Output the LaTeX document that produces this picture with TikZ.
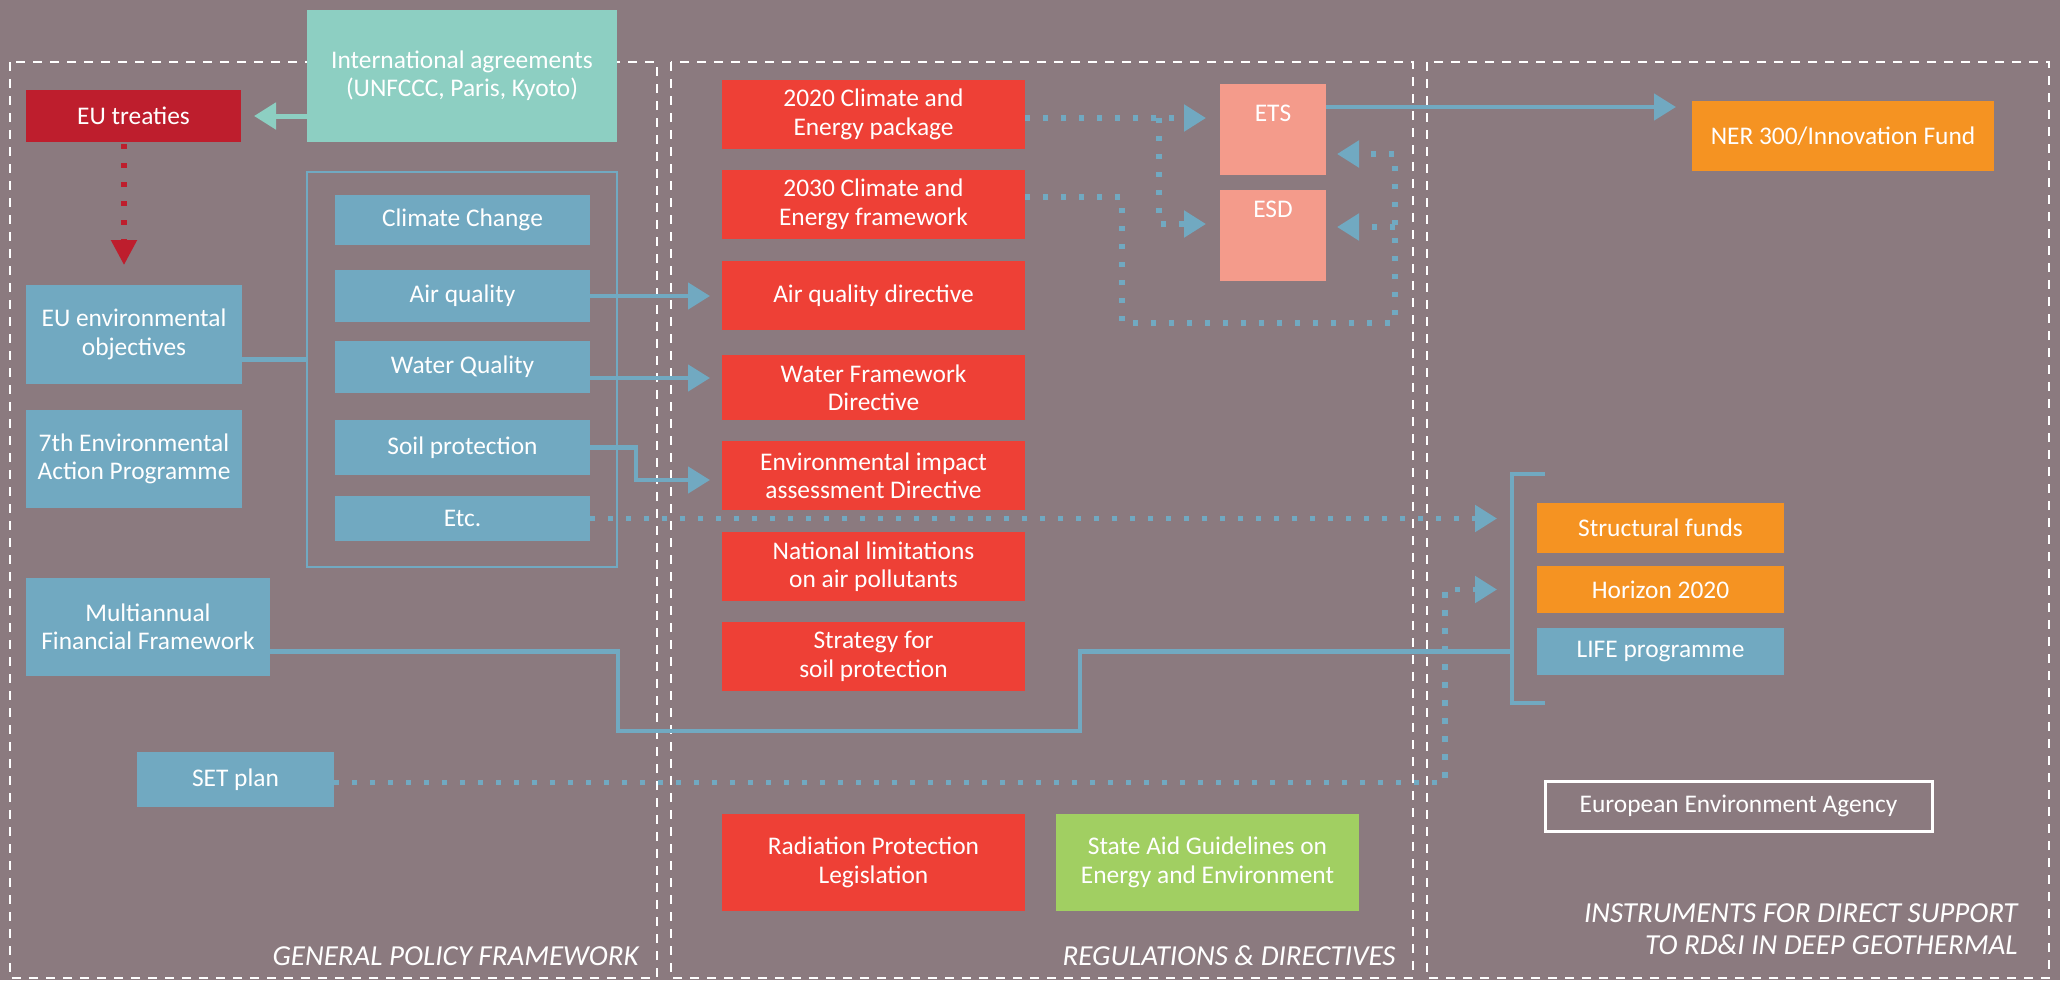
\documentclass[tikz,border=0pt]{standalone}
\usepackage{fontspec}
\setmainfont{Carlito}
\usetikzlibrary{arrows.meta,calc}
\definecolor{bg}{HTML}{8B7A7F}
\definecolor{tealbox}{HTML}{8DCFC2}
\definecolor{crimson}{HTML}{BE1E2D}
\definecolor{bluebox}{HTML}{71A9C1}
\definecolor{redbox}{HTML}{EE4036}
\definecolor{salmon}{HTML}{F49B8B}
\definecolor{orangebox}{HTML}{F59322}
\definecolor{greenbox}{HTML}{A1CF62}
\newcommand\mybox[7]{\node[#2, minimum width={(#5-#3)*0.5pt}, minimum height={(#6-#4)*0.5pt}] (#1) at ({(#3+#5)/2},{(#4+#6)/2}) {#7};}
\begin{document}
\begin{tikzpicture}[x=0.5pt,y=-0.5pt,
  box/.style={inner sep=0pt, outer sep=0pt, text=white, align=center, font=\fontsize{12.7}{14.2}\selectfont},
  lbl/.style={inner sep=0pt, text=white, font=\fontsize{12.7}{14.2}\selectfont},
  section/.style={inner sep=0pt, text=white, align=right, anchor=east, font=\fontsize{14.5}{16}\selectfont\itshape},
  frame/.style={draw=white, line width=1.2pt, dash pattern=on 4.5pt off 4pt},
  solidline/.style={draw=bluebox, line width=2.3pt},
  solidarr/.style={solidline, -{Triangle[length=11pt,width=13pt]}, shorten >=6pt},
  dotline/.style={draw=bluebox, line width=2.6pt, dash pattern=on 2.6pt off 6.4pt},
  dotarr/.style={dotline, -{Triangle[length=11pt,width=13pt]}},
  tealarr/.style={draw=tealbox, line width=2.5pt, -{Triangle[length=11pt,width=13pt]}, shorten >=6.5pt},
  reddot/.style={draw=crimson, line width=2.6pt, dash pattern=on 2.5pt off 7pt, -{Triangle[length=12.5pt,width=12.5pt]}, shorten >=10pt},
  bracketline/.style={draw=bluebox, line width=2.2pt},
]
\useasboundingbox (0,0) rectangle (2060,980);
\fill[bg] (0,0) rectangle (2060,980);

% section frames
\draw[frame] (10,62) rectangle (657,978);
\draw[frame] (671,62) rectangle (1413,978);
\draw[frame] (1427,62) rectangle (2049,978);

% general policy framework
\mybox{intl}{box,fill=tealbox}{307}{10}{617}{142}{International agreements\\(UNFCCC, Paris, Kyoto)}
\mybox{eut}{box,fill=crimson}{26}{90}{241}{142}{EU treaties}
\mybox{euenv}{box,fill=bluebox}{26}{285}{242}{384}{EU environmental\\objectives}
\mybox{seventh}{box,fill=bluebox}{26}{410}{242}{508}{7th Environmental\\Action Programme}
\mybox{mff}{box,fill=bluebox}{26}{578}{270}{676}{Multiannual\\Financial Framework}
\mybox{set}{box,fill=bluebox}{137}{752}{334}{807}{SET plan}
\mybox{grp}{draw=bluebox, line width=1.3pt, inner sep=0pt, outer sep=0pt}{307}{172}{617}{567}{}
\mybox{cc}{box,fill=bluebox}{335}{195}{590}{245}{Climate Change}
\mybox{aq}{box,fill=bluebox}{335}{270}{590}{322}{Air quality}
\mybox{wq}{box,fill=bluebox}{335}{341}{590}{393}{Water Quality}
\mybox{soil}{box,fill=bluebox}{335}{420}{590}{475}{Soil protection}
\mybox{etc}{box,fill=bluebox}{335}{496}{590}{541}{Etc.}

% regulations & directives
\mybox{p2020}{box,fill=redbox}{722}{80}{1025}{149}{2020 Climate and\\Energy package}
\mybox{p2030}{box,fill=redbox}{722}{170}{1025}{239}{2030 Climate and\\Energy framework}
\mybox{aqd}{box,fill=redbox}{722}{261}{1025}{330}{Air quality directive}
\mybox{wfd}{box,fill=redbox}{722}{355}{1025}{420}{Water Framework\\Directive}
\mybox{eia}{box,fill=redbox}{722}{441}{1025}{510}{Environmental impact\\assessment Directive}
\mybox{nat}{box,fill=redbox}{722}{532}{1025}{601}{National limitations\\on air pollutants}
\mybox{strat}{box,fill=redbox}{722}{622}{1025}{691}{Strategy for\\soil protection}
\mybox{rad}{box,fill=redbox}{722}{814}{1025}{911}{Radiation Protection\\Legislation}
\mybox{state}{box,fill=greenbox}{1056}{814}{1359}{911}{State Aid Guidelines on\\Energy and Environment}
\mybox{ets}{box,fill=salmon}{1220}{84}{1326}{175}{}
\mybox{esd}{box,fill=salmon}{1220}{190}{1326}{281}{}
\node[lbl] (etst) at ($(ets.north)+(0,29)$) {ETS};
\node[lbl] (esdt) at ($(esd.north)+(0,19)$) {ESD};

% instruments
\mybox{ner}{box,fill=orangebox}{1692}{101}{1994}{171}{NER 300/Innovation Fund}
\mybox{sf}{box,fill=orangebox}{1537}{503}{1784}{553}{Structural funds}
\mybox{h2020}{box,fill=orangebox}{1537}{566}{1784}{613}{Horizon 2020}
\mybox{life}{box,fill=bluebox}{1537}{628}{1784}{675}{LIFE programme}
\mybox{eea}{box,draw=white,line width=1.5pt}{1545}{781}{1932}{831}{European Environment Agency}

% section labels
\node[section] (lab1) at (639,956) {GENERAL POLICY FRAMEWORK};
\node[section] (lab2) at (1396,956) {REGULATIONS \& DIRECTIVES};
\node[section] (lab3) at (2018,929) {INSTRUMENTS FOR DIRECT SUPPORT\\TO RD\&I IN DEEP GEOTHERMAL};

% coordinates
\coordinate (brk) at (1512,474);
\coordinate (brkb) at (1512,703);
\coordinate (setbend) at (1445,0);
\coordinate (sp) at (1159,0);
\coordinate (loopA) at (1122,323);
\coordinate (loopB) at (1395,323);

% connectors
\draw[tealarr] (intl.west |- eut.east) -- (eut.east);
\coordinate (rd1) at ($(eut.south)+(-9.5,2)$);
\draw[reddot] (rd1) -- (rd1 |- euenv.north);
\coordinate (g1) at ($(euenv.east)+(0,25)$);
\draw[solidline] (g1) -- (g1 -| grp.west);
\draw[solidarr] (aq.east) -- (aq.east -| aqd.west);
\coordinate (w1) at ($(wq.east)+(0,11)$);
\draw[solidarr] (w1) -- (w1 -| wfd.west);
\coordinate (e1) at ($(eia.west)+(0,4.5)$);
\draw[solidarr] (soil.east) -- ++(46,0) |- (e1);
\draw[dotarr, shorten >=20pt] (etc.east) -- (etc.east -| sf.west);
\coordinate (s1) at ($(set.east)+(0,3)$);
\draw[dotarr, shorten >=20pt] (s1) -- (s1 -| setbend) |- (h2020.west);
\coordinate (m1) at ($(mff.east)+(0,24.5)$);
\draw[solidline] (m1) -- ++(348,0) |- (1080,731) |- (life.west -| brk);
\draw[bracketline] ($(brk)+(33,0)$) -- (brk) -- (brkb) -- ($(brkb)+(33,0)$);

\coordinate (a1) at ($(p2020.east)+(0,3.5)$);
\draw[dotarr, shorten >=7pt] (a1) -- (a1 -| ets.west);
\draw[dotarr, shorten >=7pt] (a1 -| sp) |- ($(esd.west)+(0,-11.5)$);
\coordinate (b1) at ($(p2030.east)+(0,-7.5)$);
\draw[dotarr, shorten >=5.5pt] (b1) -| (loopA) -- (loopB) |- ($(ets.east)+(0,24.5)$);
\coordinate (d2) at ($(esd.east)+(0,-8.5)$);
\draw[dotarr, shorten >=5.5pt] (d2 -| loopB) -- (d2);
\coordinate (n1) at ($(ets.east)+(0,-22.5)$);
\draw[solidarr, shorten >=8pt] (n1) -- (n1 -| ner.west);
\end{tikzpicture}
\end{document}
